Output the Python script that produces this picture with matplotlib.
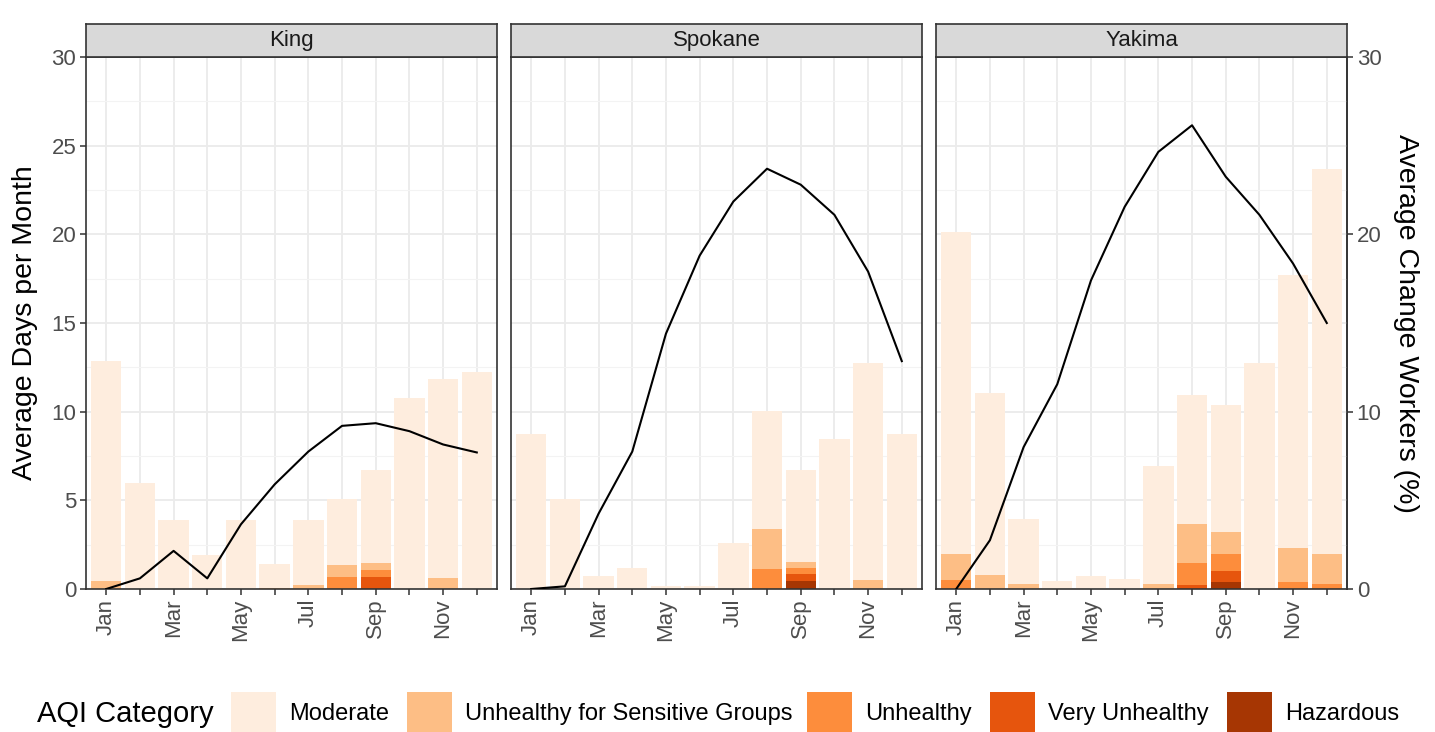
import matplotlib
matplotlib.use('Agg')
import matplotlib.pyplot as plt
from matplotlib.patches import Rectangle
import numpy as np

plt.rcParams['font.family'] = ['Liberation Sans', 'DejaVu Sans']

# ---- data ----
months = np.arange(1, 13)
month_labels = ['Jan', '', 'Mar', '', 'May', '', 'Jul', '', 'Sep', '', 'Nov', '']
counties = ['King', 'Spokane', 'Yakima']
categories = ['Moderate', 'Unhealthy for Sensitive Groups', 'Unhealthy',
              'Very Unhealthy', 'Hazardous']
cat_colors = ['#FEEDDE', '#FDBE85', '#FD8D3C', '#E6550D', '#A63603']

# average days per month in each AQI category (stacked)
king_moderate = [12.43, 6.0, 3.9, 1.9, 3.9, 1.32, 3.68, 3.75, 5.25, 10.77, 11.24, 12.26]
king_usg      = [0.45, 0, 0, 0, 0, 0.08, 0.22, 0.7, 0.4, 0, 0.62, 0]
king_unh      = [0, 0, 0, 0, 0, 0, 0, 0.65, 0.4, 0, 0, 0]
king_vunh     = [0, 0, 0, 0, 0, 0, 0, 0, 0.65, 0, 0, 0]
king_haz      = [0] * 12

spokane_moderate = [8.72, 5.06, 0.74, 1.17, 0.15, 0.15, 2.6, 6.65, 5.2, 8.47, 12.25, 8.72]
spokane_usg      = [0, 0, 0, 0, 0, 0, 0, 2.3, 0.31, 0, 0.52, 0]
spokane_unh      = [0, 0, 0, 0, 0, 0, 0, 1.1, 0.37, 0, 0, 0]
spokane_vunh     = [0, 0, 0, 0, 0, 0, 0, 0, 0.37, 0, 0, 0]
spokane_haz      = [0, 0, 0, 0, 0, 0, 0, 0, 0.46, 0, 0, 0]

yakima_moderate = [18.14, 10.23, 3.65, 0.47, 0.74, 0.56, 6.65, 7.28, 7.18, 12.76, 15.39, 21.67]
yakima_usg      = [1.5, 0.8, 0.28, 0, 0, 0, 0.28, 2.18, 1.2, 0, 1.9, 1.73]
yakima_unh      = [0.5, 0, 0, 0, 0, 0, 0, 1.29, 1.0, 0, 0.4, 0.27]
yakima_vunh     = [0, 0, 0, 0, 0, 0, 0, 0.2, 0.6, 0, 0, 0]
yakima_haz      = [0, 0, 0, 0, 0, 0, 0, 0, 0.4, 0, 0, 0]

# average change in workers (%)
king_workers    = [0.0, 0.6, 2.15, 0.6, 3.65, 5.9, 7.75, 9.2, 9.35, 8.9, 8.15, 7.7]
spokane_workers = [0.0, 0.15, 4.25, 7.75, 14.4, 18.8, 21.85, 23.7, 22.8, 21.1, 17.9, 12.85]
yakima_workers  = [0.0, 2.75, 8.0, 11.55, 17.4, 21.55, 24.65, 26.15, 23.25, 21.1, 18.35, 15.0]

days = {
    'King': [king_moderate, king_usg, king_unh, king_vunh, king_haz],
    'Spokane': [spokane_moderate, spokane_usg, spokane_unh, spokane_vunh, spokane_haz],
    'Yakima': [yakima_moderate, yakima_usg, yakima_unh, yakima_vunh, yakima_haz],
}
workers = {'King': king_workers, 'Spokane': spokane_workers, 'Yakima': yakima_workers}

# ---- layout ----
W, H = 1435, 732
fig = plt.figure(figsize=(W / 100, H / 100), dpi=100)

grid_col = '#EBEBEB'
dark = '#333333'
tick_col = '#4D4D4D'
panel_left = [86, 511, 936]
panel_w = 411
panel_top, panel_bot = 57, 589
strip_top = 24

for i, county in enumerate(counties):
    x0 = panel_left[i]
    ax = fig.add_axes([x0 / W, 1 - panel_bot / H, panel_w / W, (panel_bot - panel_top) / H])
    ax.set_axisbelow(True)

    bottom = np.zeros(12)
    vals = days[county]
    for k in range(len(categories) - 1, -1, -1):
        v = np.array(vals[k], dtype=float)
        ax.bar(months, v, width=0.9, bottom=bottom, color=cat_colors[k],
               linewidth=0, zorder=2)
        bottom = bottom + v

    ax.plot(months, workers[county], color='black', linewidth=1.5, zorder=3)

    ax.set_xlim(0.4, 12.6)
    ax.set_ylim(0, 30)
    ax.set_xticks(months)
    ax.set_xticklabels(month_labels, rotation=90, fontsize=16, color=tick_col)
    ax.set_yticks(np.arange(0, 31, 5))
    ax.set_yticks(np.arange(2.5, 30, 5), minor=True)
    ax.grid(which='major', color=grid_col, linewidth=1.3)
    ax.grid(which='minor', axis='y', color='#F3F3F3', linewidth=0.8)
    ax.tick_params(axis='x', which='major', length=4, width=1.1, color=dark, pad=3)
    ax.tick_params(axis='y', which='minor', length=0)
    if i == 0:
        ax.tick_params(axis='y', which='major', length=4, width=1.1, color=dark,
                       labelsize=16, labelcolor=tick_col, pad=3)
        ax.set_ylabel('Average Days per Month', fontsize=20.5, labelpad=10)
    else:
        ax.tick_params(axis='y', which='major', length=0, labelleft=False)
    for sp in ax.spines.values():
        sp.set_color(dark)
        sp.set_linewidth(1.2)

    if i == 2:
        sec = ax.secondary_yaxis('right', functions=(lambda v: v, lambda v: v))
        sec.set_yticks([0, 10, 20, 30])
        sec.tick_params(length=4, width=1.1, color=dark, labelsize=16,
                        labelcolor=tick_col, pad=3)
        sec.spines['right'].set_color(dark)
        sec.spines['right'].set_linewidth(1.2)
        sec.set_ylabel('Average Change Workers (%)', fontsize=20.5, rotation=270,
                       labelpad=27)

    # facet strip
    sax = fig.add_axes([x0 / W, 1 - panel_top / H, panel_w / W, (panel_top - strip_top) / H])
    sax.set_facecolor('#D9D9D9')
    sax.set_xticks([])
    sax.set_yticks([])
    for sp in sax.spines.values():
        sp.set_color(dark)
        sp.set_linewidth(1.2)
    sax.text(0.5, 0.5, county, transform=sax.transAxes, ha='center', va='center',
             fontsize=16, color='#1A1A1A')

# ---- legend at bottom ----
ly = 714
fig.text(37 / W, 1 - ly / H, 'AQI Category', fontsize=21, ha='left', va='center')
key_x = [231, 407, 807, 990, 1227]
for k, cat in enumerate(categories):
    fig.patches.append(Rectangle((key_x[k] / W, 1 - 733 / H), 45 / W, 41 / H,
                                 transform=fig.transFigure, facecolor=cat_colors[k],
                                 edgecolor='none'))
    fig.text((key_x[k] + 58) / W, 1 - ly / H, cat, fontsize=17, ha='left', va='center')

fig.savefig('out.png', dpi=100)
